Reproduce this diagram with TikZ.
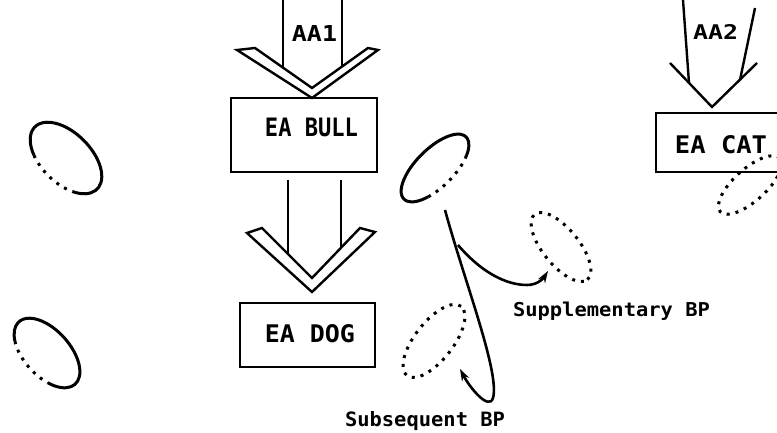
\documentclass[tikz,border=0pt]{standalone}
\usepackage{fontspec}
\usepackage{graphicx}
\usetikzlibrary{arrows.meta}
\newfontfamily\labfont{DejaVu Sans Mono Bold}
\newcommand{\fitt}[3]{\resizebox{#1pt}{#2pt}{\labfont #3}}
\tikzset{
  box/.style={draw, line width=2.6pt, rectangle, inner sep=0pt},
  lbl/.style={inner sep=0pt, anchor=base},
  chev/.style={draw, line width=2.4pt, line join=miter},
  shaft/.style={line width=2.4pt},
  solidel/.style={line width=3pt},
  dotline/.style={line width=3pt, dash pattern=on 3pt off 6pt},
  conn/.style={line width=2.6pt, -{Stealth[length=12pt,width=8pt]}},
}
\begin{document}
\begin{tikzpicture}[x=1pt,y=1pt]
\useasboundingbox (0,0) rectangle (777,433);
\fill[white] (0,0) rectangle (777,433);
\clip (0,0) rectangle (777,433);

% ---- AA1 hollow arrow into EA BULL
\draw[shaft] (283,433) -- (283,366);
\draw[shaft] (342,433) -- (342,366);
\draw[chev] (237,383) -- (312,335) -- (378,383) -- (368,385) -- (312,345) -- (255,385) -- cycle;
\node[lbl] (aa1) at (314.5,391) {\fitt{45}{16}{AA1}};

\node[box, minimum width=146, minimum height=74] (bullbox) at (304,298) {};
\node[lbl] (bull) at (311.5,296) {\fitt{93}{18.5}{EA BULL}};

% ---- hollow arrow EA BULL -> EA DOG
\draw[shaft] (288,253) -- (288,179);
\draw[shaft] (341,253) -- (341,185);
\draw[chev] (247,200) -- (312,141) -- (375,201) -- (360,205) -- (312,155) -- (262,205) -- cycle;

\node[box, minimum width=135, minimum height=64] (dogbox) at (307.5,98) {};
\node[lbl] (dog) at (310,90) {\fitt{90}{18}{EA DOG}};

% ---- AA2 into EA CAT
\draw[shaft] (683,433) -- (689,350);
\draw[shaft] (755,425) -- (740,353);
\draw[chev] (670,370) -- (712,326) -- (757,370);
\node[lbl] (aa2) at (715.5,393) {\fitt{45}{15}{AA2}};

\node[box, minimum width=134, minimum height=59] (catbox) at (723,290.5) {};
\node[lbl] (cat) at (721,279) {\fitt{92}{18}{EA CAT}};

% dotted ellipse under EA CAT
\draw[dotline, rotate around={42:(750,248)}] (750,248) ellipse[x radius=40, y radius=16];

% ---- left ellipses (solid with dotted part)
\begin{scope}[shift={(66,275)}, rotate=-45]
  \draw[solidel] (310:44 and 25) arc[start angle=310, end angle=596, x radius=44, y radius=25];
  \draw[dotline] (236:44 and 25) arc[start angle=236, end angle=310, x radius=44, y radius=25];
\end{scope}
\begin{scope}[shift={(47,80)}, rotate=-48]
  \draw[solidel] (303:42 and 23) arc[start angle=303, end angle=584, x radius=42, y radius=23];
  \draw[dotline] (224:42 and 23) arc[start angle=224, end angle=303, x radius=42, y radius=23];
\end{scope}

% ---- middle ellipse
\begin{scope}[shift={(435,265)}, rotate=45]
  \draw[solidel] (311:44 and 19) arc[start angle=311, end angle=595, x radius=44, y radius=19];
  \draw[dotline] (235:44 and 19) arc[start angle=235, end angle=311, x radius=44, y radius=19];
\end{scope}

% ---- target dotted ellipses
\draw[dotline, rotate around={-51:(561,186)}] (561,186) ellipse[x radius=42, y radius=18];
\draw[dotline, rotate around={52:(434,92)}] (434,92) ellipse[x radius=44, y radius=19];

% ---- connectors
\coordinate (S) at (445,223);
\coordinate (B) at (458,188);
\coordinate (turn) at (493,35);
\coordinate (subtip) at (460,64);
\coordinate (bend) at (527,148);
\coordinate (suptip) at (548,162);
\draw[conn] (S) .. controls (465,150) and (500,60) .. (turn)
            .. controls (489,22) and (470,45) .. (subtip);
\draw[conn] (B) .. controls (480,162) and (505,148) .. (bend)
            .. controls (537,148) and (543,154) .. (suptip);

% ---- labels
\node[lbl] (supp) at (611.5,116) {\fitt{197}{14.5}{Supplementary BP}};
\node[lbl] (subs) at (425,6) {\fitt{160}{15}{Subsequent BP}};
\end{tikzpicture}
\end{document}
